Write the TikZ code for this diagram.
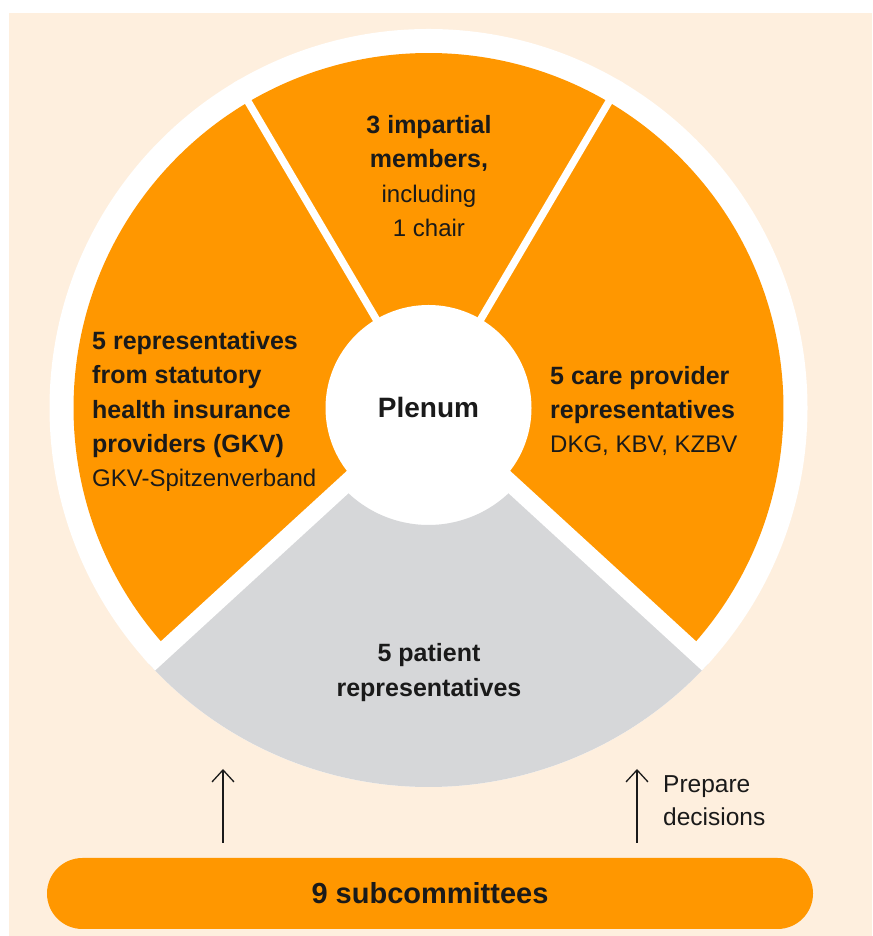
\documentclass[tikz,border=0pt]{standalone}
\usepackage{fontspec}
\setmainfont{Liberation Sans}
\usetikzlibrary{arrows.meta,calc}
\definecolor{peach}{RGB}{254,239,222}
\definecolor{gorange}{RGB}{255,151,0}
\definecolor{ggray}{RGB}{214,215,217}
\definecolor{ink}{RGB}{26,26,26}
\newcommand\lblbold[1]{{\fontsize{25}{34.3}\selectfont\bfseries #1}}
\begin{document}
\begin{tikzpicture}[x=1pt,y=1pt,
  lbl/.style={inner sep=0pt, text=ink, font=\fontsize{24}{34.3}\selectfont},
  gapthin/.style={white, line width=7.5pt},
  gapwide/.style={white, line width=17.6pt},
  uparrow/.style={draw=ink, line width=1.3pt, -{Straight Barb[length=12pt,width=22pt]}}]
\useasboundingbox (0,0) rectangle (872,936);
\fill[peach] (9,0) rectangle (872,923);
\coordinate (C) at (428.5,528);
% white ring
\fill[white] (C) circle[radius=379];
% orange sectors
\fill[gorange] (C) -- ($(C)+(-42.5:355)$) arc[start angle=-42.5,end angle=222.5,radius=355] -- cycle;
% gray sector
\fill[ggray] ($(C)+(222.5:379)$) arc[start angle=222.5,end angle=317.5,radius=379]
  -- ($(C)+(317.5:117)$) arc[start angle=317.5,end angle=222.5,radius=117] -- cycle;
% gaps
\begin{scope}
  \clip (C) circle[radius=379];
  \draw[gapthin] (C) -- ($(C)+(59.5:400)$);
  \draw[gapthin] (C) -- ($(C)+(120.5:400)$);
  \draw[gapwide] (C) -- ($(C)+(222.5:400)$);
  \draw[gapwide] (C) -- ($(C)+(317.5:400)$);
\end{scope}
% centre
\node[circle, fill=white, minimum size=206pt, inner sep=0pt, text=ink,
  font=\fontsize{28}{34}\selectfont\bfseries] (plenum) at (C) {Plenum};
% labels
\node[lbl, align=center] (top) at (429,760)
  {\lblbold{3 impartial}\\\lblbold{members,}\\including\\1 chair};
\node[lbl, align=left, anchor=west] (left) at (92,524.4)
  {\lblbold{5 representatives}\\\lblbold{from statutory}\\\lblbold{health insurance}\\\lblbold{providers (GKV)}\\GKV-Spitzenverband};
\node[lbl, align=left, anchor=west] (right) at (550,525)
  {\lblbold{5 care provider}\\\lblbold{representatives}\\DKG, KBV, KZBV};
\node[lbl, align=center, font=\fontsize{24}{35.5}\selectfont] (bottom) at (429,263.5)
  {\lblbold{5 patient}\\\lblbold{representatives}};
% subcommittees bar
\node[fill=gorange, rounded corners=35.5pt, minimum width=766pt, minimum height=71pt,
  inner sep=0pt, text=ink, font=\fontsize{29}{34}\selectfont\bfseries] (bar) at (430,42.5) {9 subcommittees};
% arrows
\coordinate (la0) at (223,93);
\coordinate (la1) at (223,167);
\coordinate (ra0) at (637,93);
\coordinate (ra1) at (637,167);
\draw[uparrow] (la0) -- (la1);
\draw[uparrow] (ra0) -- (ra1);
\node[lbl, align=left, anchor=west, font=\fontsize{24.5}{33}\selectfont] (prep) at (663,135) {Prepare\\decisions};
\end{tikzpicture}
\end{document}
